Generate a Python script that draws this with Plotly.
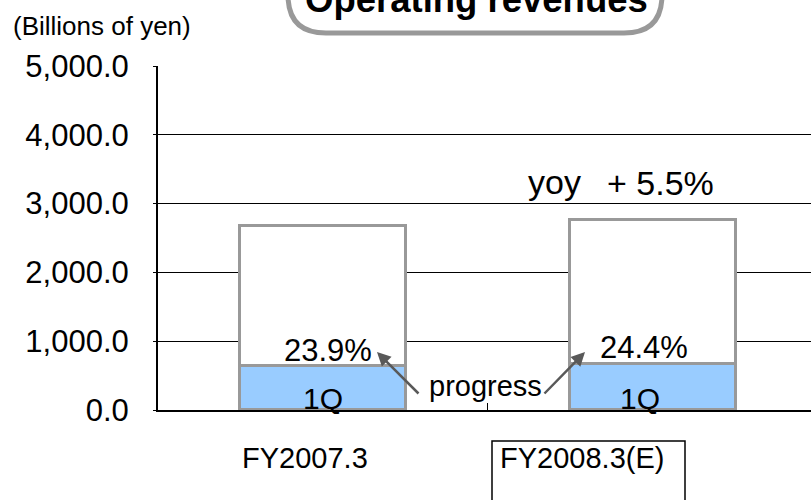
import plotly.graph_objects as go

# ---- data ----
categories = ["FY2007.3", "FY2008.3(E)"]
q1_values = [640, 674]            # 1Q operating revenues (billions of yen)
full_year_values = [2674, 2762]   # full-year operating revenues
progress_labels = ["23.9%", "24.4%"]
yoy_label = "+ 5.5%"
y_ticks = [0, 1000, 2000, 3000, 4000, 5000]

rest_values = [f - q for f, q in zip(full_year_values, q1_values)]

# ---- layout geometry ----
W, H = 811, 500
ML, MR, MT, MB = 158, 0, 66, 90
PW, PH = W - ML - MR, H - MT - MB
FONT = "Liberation Sans, Arial, sans-serif"


def px(x):
    return (x - ML) / PW


def py(y):
    return (H - MB - y) / PH


def ann(**kw):
    d = dict(showarrow=False, xanchor="center", yanchor="middle")
    d.update(kw)
    return d


fig = go.Figure()
fig.add_trace(go.Bar(
    x=categories, y=q1_values, name="1Q",
    marker=dict(color="#99CCFF", line=dict(color="#999999", width=3)),
    width=0.503, hoverinfo="skip",
))
fig.add_trace(go.Bar(
    x=categories, y=rest_values, name="rest",
    marker=dict(color="#FFFFFF", line=dict(color="#999999", width=3)),
    width=0.503, hoverinfo="skip",
))

annotations = []
# progress percentages just above the 1Q segment
prog_shift = [(5, 15), (-8.5, 16)]
for c, q, lab, (dx, dy) in zip(categories, q1_values, progress_labels, prog_shift):
    annotations.append(ann(x=c, y=q, xref="x", yref="y", text=lab,
                           xshift=dx, yshift=dy, font=dict(family=FONT, size=31, color="black")))
# 1Q labels inside the blue segment
q_shift = [0, -12.5]
for c, dx in zip(categories, q_shift):
    annotations.append(ann(x=c, y=0, xref="x", yref="y", text="1Q",
                           xshift=dx, yshift=12, font=dict(family=FONT, size=30, color="black")))
# category labels below the axis
cat_shift = [-18, -70.5]
for c, dx in zip(categories, cat_shift):
    annotations.append(ann(x=c, y=py(458), xref="x", yref="paper", text=c,
                           xshift=dx, font=dict(family=FONT, size=29, color="black")))
# yoy label above the estimate bar
annotations.append(ann(x=categories[1], y=full_year_values[1], xref="x", yref="y", text="yoy",
                       xshift=-98.5, yshift=38, font=dict(family=FONT, size=34, color="black")))
annotations.append(ann(x=categories[1], y=full_year_values[1], xref="x", yref="y", text=yoy_label,
                       xshift=7.5, yshift=37, font=dict(family=FONT, size=34, color="black")))
# "progress" with two arrows
annotations.append(ann(x=px(486), y=py(386), xref="paper", yref="paper", text="progress",
                       font=dict(family=FONT, size=29, color="black")))
for (hx, hy), (tx, ty) in [((377, 352), (420, 395)), ((585, 352), (543, 395))]:
    annotations.append(dict(x=px(hx), y=py(hy), xref="paper", yref="paper", text="",
                            showarrow=True, ax=tx - hx, ay=ty - hy, arrowhead=2, arrowsize=1.1,
                            arrowwidth=2.5, arrowcolor="#595959", standoff=0, startstandoff=0))
# unit label
annotations.append(ann(x=px(102), y=py(26), xref="paper", yref="paper", text="(Billions of yen)",
                       font=dict(family=FONT, size=26, color="black")))
# chart title (partially cut off at the top, as in the original slide)
annotations.append(ann(x=px(476), y=py(-1), xref="paper", yref="paper",
                       text="<b>Operating revenues</b>",
                       font=dict(family=FONT, size=36.5, color="black")))

# rounded title box (top edge outside the picture)
L, R, B, TOP, r = 288, 662, 33, -60, 38
title_path = (f"M {px(L)},{py(TOP)} L {px(L)},{py(B - r)} "
              f"Q {px(L)},{py(B)} {px(L + r)},{py(B)} "
              f"L {px(R - r)},{py(B)} Q {px(R)},{py(B)} {px(R)},{py(B - r)} "
              f"L {px(R)},{py(TOP)}")
shapes = [
    dict(type="path", xref="paper", yref="paper", path=title_path,
         line=dict(color="#999999", width=5), layer="above"),
    dict(type="rect", xref="paper", yref="paper", x0=px(492), x1=px(685),
         y0=py(441), y1=py(530), line=dict(color="black", width=1.5)),
]

fig.update_layout(
    width=W, height=H, autosize=False,
    margin=dict(l=ML, r=MR, t=MT, b=MB, autoexpand=False),
    paper_bgcolor="white", plot_bgcolor="white",
    barmode="stack", bargap=0, showlegend=False,
    font=dict(family=FONT, color="black"),
    annotations=annotations, shapes=shapes,
    xaxis=dict(type="category", range=[-0.5, 1.479], showticklabels=False,
               ticks="inside", tickson="boundaries", ticklen=7, tickcolor="black", tickwidth=1,
               showline=True, linecolor="black", linewidth=2, showgrid=False, zeroline=False,
               fixedrange=True),
    yaxis=dict(range=[0, 5000], tickvals=y_ticks, tickformat=",.1f",
               tickfont=dict(family=FONT, size=31, color="black"),
               ticks="outside", ticklen=3, tickcolor="black", ticklabelstandoff=18,
               showline=True, linecolor="black", linewidth=2,
               showgrid=True, gridcolor="black", gridwidth=1, zeroline=False,
               fixedrange=True),
)

fig.write_html("out.html", config={"displayModeBar": False},
               post_script="document.body.style.margin='0';document.body.style.overflow='hidden';")
